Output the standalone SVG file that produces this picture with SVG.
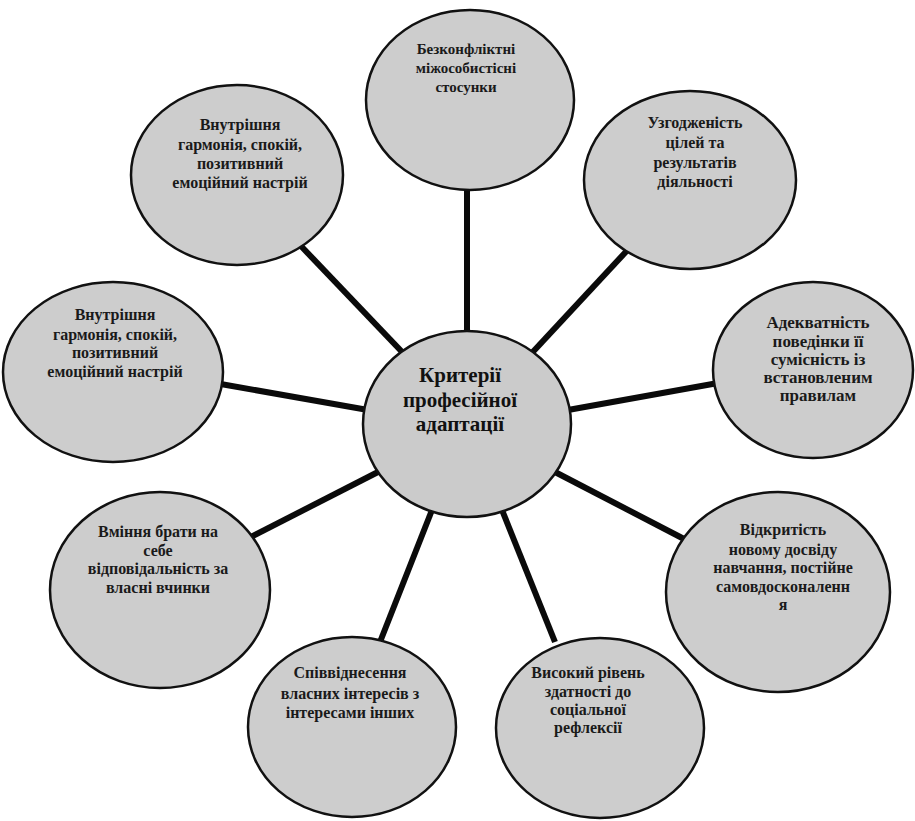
<svg xmlns="http://www.w3.org/2000/svg" width="915" height="821" viewBox="0 0 915 821" font-family="'Liberation Serif', 'Times New Roman', 'DejaVu Serif', 'Noto Serif', serif">
<style>
.bg{fill:#ffffff}
.node{fill:#cdcdcd;stroke:#111;stroke-width:2.5}
.hub{fill:#cbcbcb;stroke:#111;stroke-width:2.5}
.conn{stroke:#0a0a0a;stroke-width:6;stroke-linecap:butt;fill:none}
.t{font-family:'Liberation Serif','Times New Roman','DejaVu Serif','Noto Serif',serif;font-size:16px;font-weight:bold;fill:#1a1a1a;text-anchor:middle}
.tc{font-family:'Liberation Serif','Times New Roman','DejaVu Serif','Noto Serif',serif;font-size:21px;font-weight:bold;fill:#111;text-anchor:middle}
</style>
<rect class="bg" x="0" y="0" width="915" height="821"/>
<g id="connectors">
<line class="conn" x1="467" y1="185" x2="467" y2="335"/>
<line class="conn" x1="300" y1="245" x2="405" y2="355"/>
<line class="conn" x1="635" y1="242" x2="530" y2="355"/>
<line class="conn" x1="215" y1="383" x2="368" y2="410"/>
<line class="conn" x1="568" y1="410" x2="718" y2="383"/>
<line class="conn" x1="378" y1="472" x2="245" y2="540"/>
<line class="conn" x1="555" y1="472" x2="686" y2="540"/>
<line class="conn" x1="432" y1="510" x2="380" y2="642"/>
<line class="conn" x1="502" y1="510" x2="555" y2="642"/>
</g>
<g id="n-top">
<ellipse class="node" cx="470" cy="100" rx="104" ry="90"/>
<text class="t" style="font-size:15px"><tspan x="466" y="54">Безконфліктні</tspan><tspan x="466" y="73">міжособистісні</tspan><tspan x="466" y="92">стосунки</tspan></text>
</g>
<g id="n-upper-left">
<ellipse class="node" cx="237" cy="175" rx="106" ry="90"/>
<text class="t"><tspan x="240" y="130">Внутрішня</tspan><tspan x="240" y="150">гармонія, спокій,</tspan><tspan x="240" y="169">позитивний</tspan><tspan x="240" y="188">емоційний настрій</tspan></text>
</g>
<g id="n-upper-right">
<ellipse class="node" cx="690" cy="180" rx="106" ry="89"/>
<text class="t"><tspan x="695" y="128">Узгодженість</tspan><tspan x="695" y="148">цілей та</tspan><tspan x="695" y="168">результатів</tspan><tspan x="695" y="187">діяльності</tspan></text>
</g>
<g id="n-left">
<ellipse class="node" cx="113" cy="372" rx="110" ry="90"/>
<text class="t"><tspan x="115" y="320">Внутрішня</tspan><tspan x="115" y="340">гармонія, спокій,</tspan><tspan x="115" y="358">позитивний</tspan><tspan x="115" y="377">емоційний настрій</tspan></text>
</g>
<g id="n-right">
<ellipse class="node" cx="813" cy="370" rx="100" ry="88"/>
<text class="t" style="font-size:17px"><tspan x="818" y="328">Адекватність</tspan><tspan x="818" y="347">поведінки її</tspan><tspan x="818" y="365">сумісність із</tspan><tspan x="818" y="383">встановленим</tspan><tspan x="818" y="401">правилам</tspan></text>
</g>
<g id="n-lower-left">
<ellipse class="node" cx="160" cy="590" rx="110" ry="98"/>
<text class="t"><tspan x="158" y="537">Вміння брати на</tspan><tspan x="158" y="556">себе</tspan><tspan x="158" y="574">відповідальність за</tspan><tspan x="158" y="593">власні вчинки</tspan></text>
</g>
<g id="n-lower-right">
<ellipse class="node" cx="778" cy="592" rx="112" ry="100"/>
<text class="t"><tspan x="783" y="535">Відкритість</tspan><tspan x="783" y="555">новому досвіду</tspan><tspan x="783" y="573">навчання, постійне</tspan><tspan x="783" y="592">самовдосконаленн</tspan><tspan x="783" y="610">я</tspan></text>
</g>
<g id="n-bottom-left">
<ellipse class="node" cx="352" cy="727" rx="104" ry="90"/>
<text class="t"><tspan x="350" y="678">Співвіднесення</tspan><tspan x="350" y="699">власних інтересів з</tspan><tspan x="350" y="718">інтересами інших</tspan></text>
</g>
<g id="n-bottom-right">
<ellipse class="node" cx="600" cy="728" rx="104" ry="90"/>
<text class="t"><tspan x="588" y="678">Високий рівень</tspan><tspan x="588" y="697">здатності до</tspan><tspan x="588" y="715">соціальної</tspan><tspan x="588" y="733">рефлексії</tspan></text>
</g>
<g id="n-center">
<ellipse class="hub" cx="467" cy="424" rx="104" ry="93"/>
<text class="tc"><tspan x="460" y="382">Критерії</tspan><tspan x="460" y="407">професійної</tspan><tspan x="460" y="431">адаптації</tspan></text>
</g>
</svg>
